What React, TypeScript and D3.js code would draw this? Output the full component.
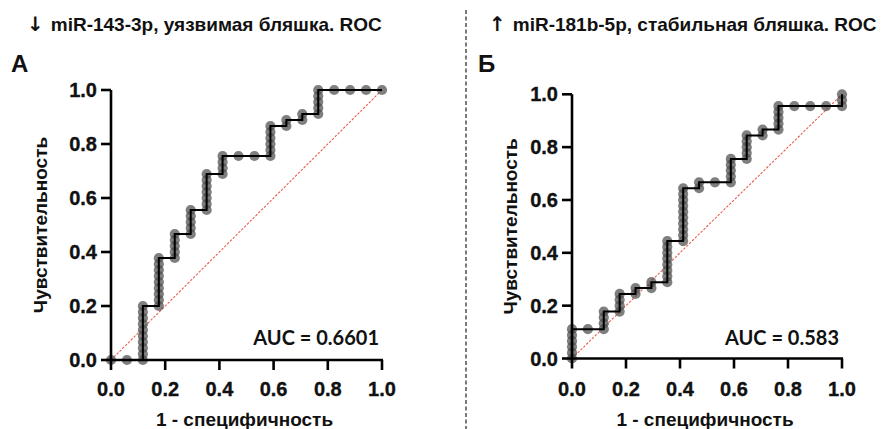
import React from "react";
import * as d3 from "d3";

const nControls = 17;
const nCases = 45;

// ROC points: counts of controls (1 - specificity) and cases (sensitivity)
const leftFpr = [0,1,2,2,2,2,2,2,2,2,2,2, 3,3,3,3,3,3,3,3,3, 4,4,4,4,4, 5,5,5,5,5, 6,6,6,6,6,6,6, 7,7,7,7, 8,9,10,10,10,10,10,10, 11,11, 12,12, 13,13,13,13,13, 14,15,16,17];
const leftTpr = [0,0,0,1,2,3,4,5,6,7,8,9, 9,10,11,12,13,14,15,16,17, 17,18,19,20,21, 21,22,23,24,25, 25,26,27,28,29,30,31, 31,32,33,34, 34,34,34,35,36,37,38,39, 39,40, 40,41, 41,42,43,44,45, 45,45,45,45];

const rightFpr = [0,0,0,0,0,0, 1, 2,2,2,2, 3,3,3,3, 4,4, 5,5, 6,6,6,6,6,6,6,6, 7,7,7,7,7,7,7,7,7,7, 8,8, 9, 10,10,10,10,10, 11,11,11,11,11, 12,12, 13,13,13,13,13, 14,15,16, 17,17,17];
const rightTpr = [0,1,2,3,4,5, 5, 5,6,7,8, 8,9,10,11, 11,12, 12,13, 13,14,15,16,17,18,19,20, 20,21,22,23,24,25,26,27,28,29, 29,30, 30, 30,31,32,33,34, 34,35,36,37,38, 38,39, 39,40,41,42,43, 43,43,43, 43,44,45];

const tickValues = [0, 0.2, 0.4, 0.6, 0.8, 1.0];
const titleArrows = ["↓", "↑"];
const titles = ["miR-143-3p, уязвимая бляшка. ROC", "miR-181b-5p, стабильная бляшка. ROC"];
const panelLetters = ["А", "Б"];
const aucLabels = ["AUC = 0.6601", "AUC = 0.583"];
const xTitle = "1 - специфичность";
const yTitle = "Чувствительность";

const FONT = "'Liberation Sans', Arial, sans-serif";

type PanelProps = {
  fpr: number[];
  tpr: number[];
  x0: number; x1: number; y0: number; y1: number;
  arrow: string; title: string; titleX: number;
  letter: string; letterX: number;
  auc: string;
  yTitleX: number;
};

function Panel(p: PanelProps) {
  const x = d3.scaleLinear().domain([0, 1]).range([p.x0, p.x1]);
  const y = d3.scaleLinear().domain([0, 1]).range([p.y0, p.y1]);
  const pts = p.fpr.map((f, i) => [f / nControls, p.tpr[i] / nCases] as [number, number]);
  const line = d3.line<[number, number]>().x(d => x(d[0])).y(d => y(d[1]));
  const tickLen = 10;
  const heavy = { stroke: "#111", strokeWidth: 0.35 };
  return (
    <g>
      <text x={p.titleX} y={31} fontFamily={FONT} fontWeight="bold" fontSize={19} fill="#111">
        <tspan fontFamily="'DejaVu Sans', sans-serif" fontWeight="bold" fontSize={20} fill="#111">{p.arrow}</tspan>
        <tspan dx={7}>{p.title}</tspan>
      </text>
      <text x={p.letterX} y={72} fontFamily={FONT} fontWeight="bold" fontSize={24} fill="#111">{p.letter}</text>
      <line x1={x(0)} y1={y(0)} x2={x(1)} y2={y(1)} stroke="#e8604f" strokeWidth={1.1} strokeDasharray="2.5,1.5" />
      <g>
        {pts.map((d, i) => (
          <circle key={i} cx={x(d[0])} cy={y(d[1])} r={5.1} fill="#4d4d4d" fillOpacity={0.72} />
        ))}
      </g>
      <path d={line(pts) || ""} fill="none" stroke="#000" strokeWidth={2} />
      {/* axes */}
      <line x1={p.x0} y1={p.y0} x2={p.x1 + 1} y2={p.y0} stroke="#000" strokeWidth={2.6} />
      <line x1={p.x0} y1={p.y0 + 1} x2={p.x0} y2={p.y1} stroke="#000" strokeWidth={2.6} />
      {tickValues.map((t, i) => (
        <g key={"x" + i}>
          <line x1={x(t)} x2={x(t)} y1={p.y0} y2={p.y0 + tickLen} stroke="#000" strokeWidth={2.6} />
          <text x={x(t)} y={396} textAnchor="middle" fontFamily={FONT} fontWeight="bold" fontSize={20} fill="#111" {...heavy}>{t.toFixed(1)}</text>
        </g>
      ))}
      {tickValues.map((t, i) => (
        <g key={"y" + i}>
          <line x1={p.x0 - tickLen} x2={p.x0} y1={y(t)} y2={y(t)} stroke="#000" strokeWidth={2.6} />
          <text x={p.x0 - 14} y={y(t) + 7} textAnchor="end" fontFamily={FONT} fontWeight="bold" fontSize={20} fill="#111" {...heavy}>{t.toFixed(1)}</text>
        </g>
      ))}
      <text x={(p.x0 + p.x1) / 2 - 2} y={426} textAnchor="middle" fontFamily={FONT} fontWeight="bold" fontSize={19} fill="#111">{xTitle}</text>
      <text transform={`translate(${p.yTitleX},${(p.y0 + p.y1) / 2}) rotate(-90)`} textAnchor="middle" fontFamily={FONT} fontWeight="bold" fontSize={19} fill="#111">{yTitle}</text>
      <text x={p.x1 - 3} y={345} textAnchor="end" fontFamily="Lato, 'Open Sans', sans-serif" fontWeight="bold" fontSize={20} fill="#111">{p.auc}</text>
    </g>
  );
}

export default function App() {
  return (
    <svg width={885} height={429} style={{ position: "absolute", left: 0, top: 0, background: "#fff" }}>
      <rect width={885} height={429} fill="#fff" />
      <Panel fpr={leftFpr} tpr={leftTpr} x0={111} x1={382} y0={360} y1={90}
        arrow={titleArrows[0]} title={titles[0]} titleX={27} letter={panelLetters[0]} letterX={11} auc={aucLabels[0]} yTitleX={47} />
      <Panel fpr={rightFpr} tpr={rightTpr} x0={572} x1={842} y0={358.5} y1={94.3}
        arrow={titleArrows[1]} title={titles[1]} titleX={489} letter={panelLetters[1]} letterX={478} auc={aucLabels[1]} yTitleX={517} />
      <line x1={466} x2={466} y1={10} y2={429} stroke="#333" strokeWidth={1.3} strokeDasharray="4,2.5" />
    </svg>
  );
}
